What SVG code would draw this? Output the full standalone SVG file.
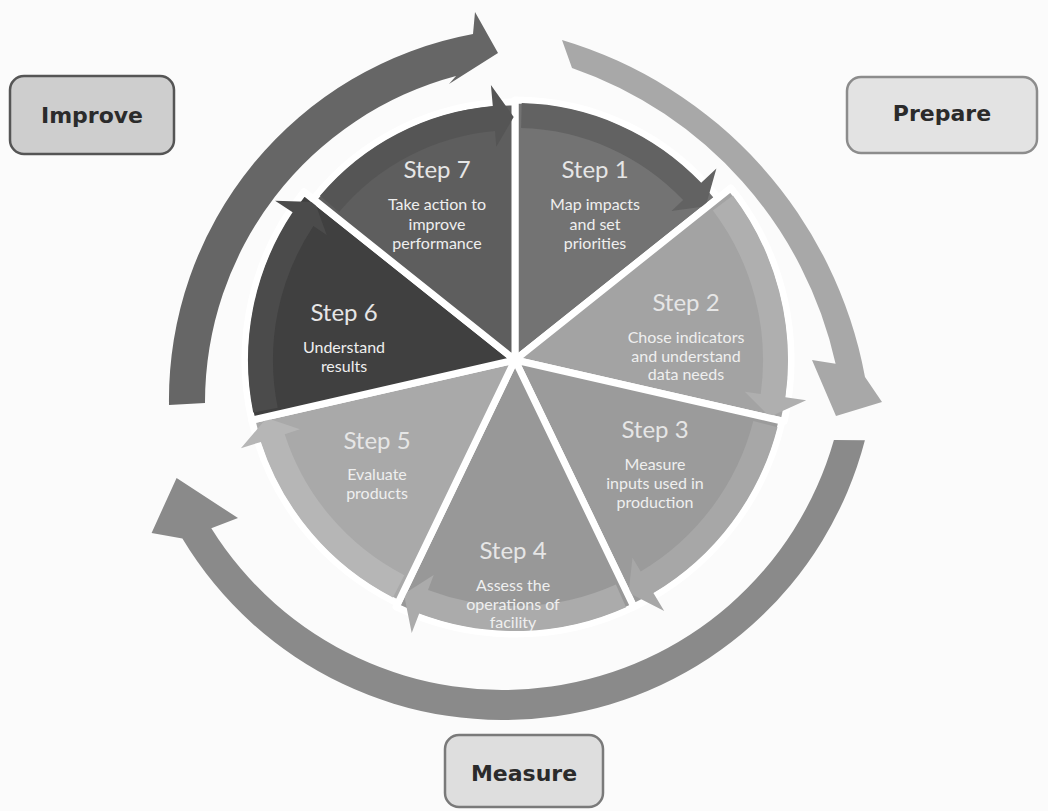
<svg xmlns="http://www.w3.org/2000/svg" width="1048" height="811" viewBox="0 0 1048 811">
<style>
.wedge{stroke:#ffffff;stroke-width:7;stroke-linejoin:round}
.hd{font-family:Lato,"Open Sans","DejaVu Sans",sans-serif;font-size:24px;fill:#e6e6e6;text-anchor:middle;dominant-baseline:central}
.tx{font-family:Lato,"Open Sans","DejaVu Sans",sans-serif;font-size:16px;fill:#efefef;text-anchor:middle;dominant-baseline:central}
.box{stroke-width:2.5}
.lbl{font-family:"DejaVu Sans",Verdana,sans-serif;font-weight:bold;font-size:22px;fill:#2b2b2b;text-anchor:middle}
</style>
<rect x="0" y="0" width="1048" height="811" fill="#fbfbfb"/>
<g id="connectors">
<path id="arrow-improve" fill="#666666" d="M169,405 A372,372 0 0 1 473,34 L475,12 L498,53 L449,84 L456,76 A338,338 0 0 0 205,403 Z"/>
<path id="arrow-prepare" fill="#a8a8a8" d="M562,40 A434,434 0 0 1 865,377 L882,402 L836,416 L812,360 L835.6,363.7 A406,406 0 0 0 572,68 Z"/>
<path id="arrow-measure" fill="#8a8a8a" d="M864.9,440.3 A374,374 0 0 1 182.4,538.6 L151.6,532.9 L176.6,477.9 L238,518.1 L211.3,528.3 A344,344 0 0 0 833.9,440 Z"/>
</g>
<g id="step1">
<path class="wedge" fill="#737373" d="M515,360 L515,100 A260,260 0 0 1 718.3,197.9 Z"/>
<path fill="#626262" d="M521.7,103.1 A257,257 0 0 1 701.2,182.8 L716.4,168.4 L705.7,206.2 L671.5,211.1 L683.1,200.1 A232,232 0 0 0 521.1,128.1 Z"/>
<text class="hd" x="595" y="168">Step 1</text>
<text class="tx" x="595" y="203">Map impacts</text>
<text class="tx" x="595" y="223">and set</text>
<text class="tx" x="595" y="242">priorities</text>
</g>
<g id="step2">
<path class="wedge" fill="#a3a3a3" d="M515,360 L730.8,187.9 A276,276 0 0 1 784.1,421.4 Z"/>
<path fill="#afafaf" d="M732.9,195.5 A273,273 0 0 1 785.4,397.3 L806.2,400.2 L769.8,416.7 L744.8,391.7 L760.7,393.9 A248,248 0 0 0 712.9,210.5 Z"/>
<text class="hd" x="686" y="301">Step 2</text>
<text class="tx" x="686" y="336">Chose indicators</text>
<text class="tx" x="686" y="355">and understand</text>
<text class="tx" x="686" y="373">data needs</text>
</g>
<g id="step3">
<path class="wedge" fill="#9b9b9b" d="M515,360 L782.1,421 A274,274 0 0 1 633.9,606.9 Z"/>
<path fill="#a7a7a7" d="M777.5,427.2 A271,271 0 0 1 653.4,593 L664.2,611 L628.6,592.8 L632.5,557.7 L640.7,571.5 A246,246 0 0 0 753.3,421 Z"/>
<text class="hd" x="655" y="428">Step 3</text>
<text class="tx" x="655" y="463">Measure</text>
<text class="tx" x="655" y="482">inputs used in</text>
<text class="tx" x="655" y="501">production</text>
</g>
<g id="step4">
<path class="wedge" fill="#989898" d="M515,360 L633.9,606.9 A274,274 0 0 1 396.1,606.9 Z"/>
<path fill="#ababab" d="M626.1,607.2 A271,271 0 0 1 419.2,613.5 L411.7,633.1 L403.9,593.9 L433.7,575.1 L428,590.1 A246,246 0 0 0 615.9,584.4 Z"/>
<text class="hd" x="513" y="549">Step 4</text>
<text class="tx" x="513" y="584">Assess the</text>
<text class="tx" x="513" y="603">operations of</text>
<text class="tx" x="513" y="621">facility</text>
</g>
<g id="step5">
<path class="wedge" fill="#a9a9a9" d="M515,360 L397.9,603.3 A270,270 0 0 1 251.8,420.1 Z"/>
<path fill="#b6b6b6" d="M392.9,597.4 A267,267 0 0 1 260.9,441.9 L240.9,448.3 L266.7,418 L299.9,429.3 L284.7,434.2 A242,242 0 0 0 404.3,575.2 Z"/>
<text class="hd" x="377" y="439">Step 5</text>
<text class="tx" x="377" y="473">Evaluate</text>
<text class="tx" x="377" y="492">products</text>
</g>
<g id="step6">
<path class="wedge" fill="#404040" d="M515,360 L251.8,420.1 A270,270 0 0 1 303.9,191.7 Z"/>
<path fill="#4b4b4b" d="M253.2,412.6 A267,267 0 0 1 292.6,212.3 L275.1,200.7 L314.8,202.1 L326.7,235 L313.4,226.1 A242,242 0 0 0 277.7,407.7 Z"/>
<text class="hd" x="344" y="311">Step 6</text>
<text class="tx" x="344" y="346">Understand</text>
<text class="tx" x="344" y="365">results</text>
</g>
<g id="step7">
<path class="wedge" fill="#5e5e5e" d="M515,360 L313.3,199.1 A258,258 0 0 1 515,102 Z"/>
<path fill="#555555" d="M320,195.8 A255,255 0 0 1 492.8,106 L490.9,85 L513.7,117 L496.3,146.8 L495,130.9 A230,230 0 0 0 339.1,211.9 Z"/>
<text class="hd" x="437" y="168">Step 7</text>
<text class="tx" x="437" y="203">Take action to</text>
<text class="tx" x="437" y="223">improve</text>
<text class="tx" x="437" y="242">performance</text>
</g>
<g id="improve">
<rect class="box" x="10" y="76" width="164" height="78" rx="14" fill="#cecece" stroke="#555555"/>
<text class="lbl" x="92" y="123">Improve</text>
</g>
<g id="prepare">
<rect class="box" x="847" y="77" width="190" height="76" rx="14" fill="#e3e3e3" stroke="#8c8c8c"/>
<text class="lbl" x="942" y="121">Prepare</text>
</g>
<g id="measure">
<rect class="box" x="445" y="735" width="158" height="72" rx="14" fill="#dedede" stroke="#7a7a7a"/>
<text class="lbl" x="524" y="781">Measure</text>
</g>
</svg>
